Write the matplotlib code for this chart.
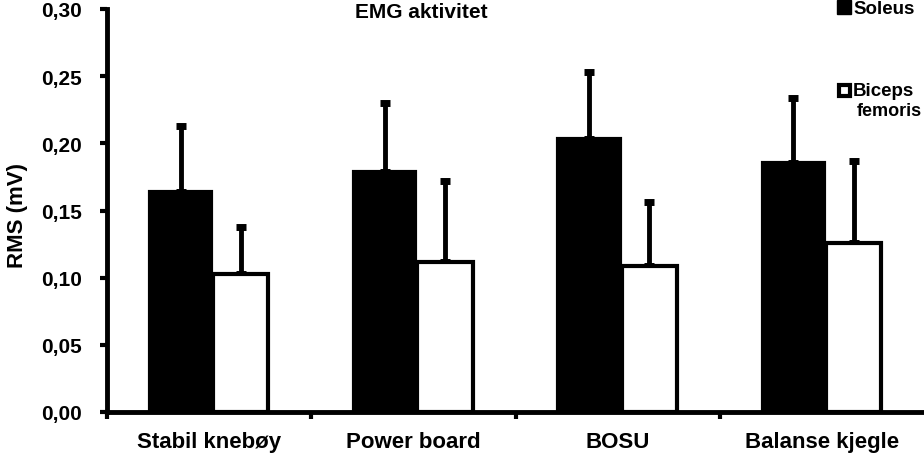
import matplotlib
matplotlib.use("Agg")
import matplotlib.pyplot as plt
from matplotlib.patches import Rectangle

plt.rcParams["font.family"] = ["Liberation Sans", "DejaVu Sans"]
plt.rcParams["font.weight"] = "bold"
plt.rcParams["axes.labelweight"] = "bold"

categories = ["Stabil knebøy", "Power board", "BOSU", "Balanse kjegle"]
soleus = [0.164, 0.179, 0.203, 0.185]
soleus_err = [0.049, 0.051, 0.050, 0.049]
biceps = [0.103, 0.112, 0.109, 0.126]
biceps_err = [0.035, 0.060, 0.047, 0.061]
yticks = [0.00, 0.05, 0.10, 0.15, 0.20, 0.25, 0.30]

W, H = 924, 456
fig = plt.figure(figsize=(W / 100, H / 100), dpi=100)
ax = fig.add_axes([107 / W, (H - 413) / H, (W - 107) / W, 403 / H])

xs = range(len(categories))
x_sol = [i + 0.36 for i in xs]
x_bic = [i + 0.655 for i in xs]
ax.bar(x_sol, soleus, width=0.3, color="black", edgecolor="black", linewidth=3, zorder=2)
ax.bar(x_bic, biceps, width=0.27, color="white", edgecolor="black", linewidth=3, zorder=2)
ax.errorbar(x_sol, soleus, yerr=[[0] * 4, soleus_err], fmt="none", ecolor="black",
            elinewidth=3.5, capsize=3.5, capthick=5, zorder=1)
ax.errorbar(x_bic, biceps, yerr=[[0] * 4, biceps_err], fmt="none", ecolor="black",
            elinewidth=3.5, capsize=3.5, capthick=5, zorder=1)

ax.set_xlim(0, 4)
ax.set_ylim(0, 0.30)
ax.set_yticks(yticks)
ax.set_yticklabels([f"{v:.2f}".replace(".", ",") for v in yticks])
ax.set_xticks([0, 1, 2, 3])
ax.set_xticklabels([])
ax.set_xticks([i + 0.5 for i in xs], minor=True)
ax.set_xticklabels(categories, minor=True)
ax.tick_params(axis="x", which="minor", length=0, pad=14, labelsize=16)
ax.tick_params(axis="x", which="major", length=5, width=3, direction="out")
ax.tick_params(axis="y", length=5, width=3, direction="out", labelsize=15, pad=13)

for s in ["top", "right"]:
    ax.spines[s].set_visible(False)
for s in ["left", "bottom"]:
    ax.spines[s].set_linewidth(3.5)
ax.spines["left"].set_capstyle("projecting")
ax.patch.set_alpha(0)

ax.set_ylabel("RMS (mV)", fontsize=16)
ax.yaxis.set_label_coords(-0.097, 0.49)
fig.text(421 / W, 1 - 13 / H, "EMG aktivitet", ha="center", va="center", fontsize=15)

# legend
fig.patches.append(Rectangle((837 / W, 1 - 15 / H), 14 / W, 14 / H, transform=fig.transFigure,
                             facecolor="black", edgecolor="black", lw=1))
fig.text(853 / W, 1 - 9 / H, "Soleus", ha="left", va="center", fontsize=13.5)
fig.patches.append(Rectangle((838.5 / W, 1 - 97 / H), 11 / W, 11 / H, transform=fig.transFigure,
                             facecolor="white", edgecolor="black", lw=3))
fig.text(853 / W, 1 - 91 / H, "Biceps", ha="left", va="center", fontsize=13.5)
fig.text(857 / W, 1 - 112 / H, "femoris", ha="left", va="center", fontsize=13)

fig.savefig("out.png", dpi=100)
